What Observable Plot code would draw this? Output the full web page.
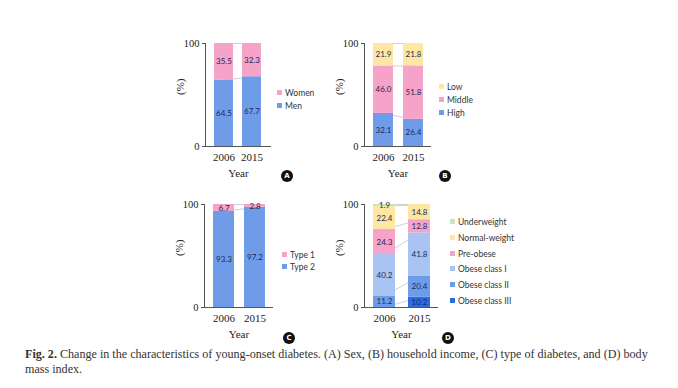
<!DOCTYPE html>
<html>
<head>
<meta charset="utf-8">
<script src="https://cdn.jsdelivr.net/npm/d3@7"></script>
<script src="https://cdn.jsdelivr.net/npm/@observablehq/plot@0.6"></script>
<style>
  html, body { margin: 0; padding: 0; background: #fff; }
  #root { position: relative; width: 678px; height: 388px; overflow: hidden; background: #fff; }
  .panel { position: absolute; }
  .legend { position: absolute; font-family: Lato, "Open Sans", sans-serif; font-size: 8.5px; color: #333; }
  .legend .item { position: absolute; white-space: nowrap; line-height: 10px; transform: translateY(-5px); }
  .legend .sw { display: inline-block; width: 5px; height: 5px; margin-right: 3px; vertical-align: 1px; }
  .badge { position: absolute; width: 12px; height: 12px; border-radius: 50%; background: #111; color: #fff;
           font-family: "DejaVu Sans", sans-serif; font-weight: bold; font-size: 7px; line-height: 12px; text-align: center; }
  .caption { position: absolute; left: 25px; top: 347px; font-family: "Liberation Serif", serif; font-size: 12.1px;
             line-height: 15px; color: #333; white-space: nowrap; }
</style>
</head>
<body>
<div id="root"></div>
<script>
const years = ["2006", "2015"];

// (A) Sex
const sexCats = ["Men", "Women"];
const sexMen = [64.5, 67.7];
const sexWomen = [35.5, 32.3];
const sexColors = ["#6f9ce9", "#f5a3c8"];

// (B) Household income
const incomeCats = ["High", "Middle", "Low"];
const incomeHigh = [32.1, 26.4];
const incomeMiddle = [46.0, 51.8];
const incomeLow = [21.9, 21.8];
const incomeColors = ["#6f9ce9", "#f5a3c8", "#fde7a3"];

// (C) Type of diabetes
const typeCats = ["Type 2", "Type 1"];
const typeTwo = [93.3, 97.2];
const typeOne = [6.7, 2.8];
const typeColors = ["#6f9ce9", "#f5a3c8"];

// (D) Body mass index
const bmiCats = ["Obese class III", "Obese class II", "Obese class I", "Pre-obese", "Normal-weight", "Underweight"];
const bmiObese3 = [0, 10.2];
const bmiObese2 = [11.2, 20.4];
const bmiObese1 = [40.2, 41.8];
const bmiPre = [24.3, 12.8];
const bmiNormal = [22.4, 14.8];
const bmiUnder = [1.9, 0];
const bmiColors = ["#2c6be0", "#6f9ce9", "#a9c3f3", "#f5a3c8", "#fde7a3", "#c8e4c0"];

const root = document.getElementById("root");
const fmt = d3.format(".1f");

function makePanel({left, top, axisX, y100, y0, rangeW, padIn, padOut, cats, series, colors,
                    legendX, legendYs, badge, badgeX, badgeY}) {
  const rows = [];
  cats.forEach((c, i) => years.forEach((y, j) => rows.push({year: y, cat: c, value: series[i][j]})));
  const links = [];
  const cum = [0, 0];
  cats.forEach((c, i) => {
    cum[0] += series[i][0]; cum[1] += series[i][1];
    links.push({from: years[0], to: years[1], a: cum[0], b: cum[1]});
  });
  const marginLeft = axisX - left;
  const W = marginLeft + rangeW + 6;
  const H = 150;
  const marginTop = y100 - top;
  const marginBottom = top + H - y0;
  const chart = Plot.plot({
    width: W, height: H,
    marginLeft, marginRight: 6, marginTop, marginBottom,
    style: {fontFamily: "'Liberation Serif', serif", fontSize: "11px", color: "#222", background: "transparent", overflow: "visible"},
    x: {domain: years, paddingInner: padIn, paddingOuter: padOut, axis: null},
    y: {domain: [0, 100], axis: null},
    color: {domain: cats, range: colors},
    marks: [
      Plot.link(links, {x1: "from", x2: "to", y1: "a", y2: "b", stroke: "#c4c4c4", strokeWidth: 0.8}),
      Plot.barY(rows, Plot.stackY({x: "year", y: "value", fill: "cat", order: cats, inset: 0})),
      Plot.text(rows.filter(d => d.value > 0), Plot.stackY({x: "year", y: "value", z: "cat", order: cats,
        text: d => fmt(d.value), fill: "#1f2755", fontFamily: "Lato, 'Open Sans', sans-serif", fontSize: 8})),
      Plot.frame({anchor: "left", stroke: "#555", strokeWidth: 1}),
      Plot.ruleY([0], {stroke: "#555", strokeWidth: 1.2}),
      Plot.axisY({ticks: [0, 100], tickSize: 3, tickPadding: 3, label: null, fontSize: 10.5, stroke: "#555"}),
      Plot.axisX({tickSize: 0, tickPadding: 7, label: null, fontSize: 11}),
      Plot.text(["Year"], {frameAnchor: "bottom", dy: 30, fontSize: 11}),
      Plot.text(["(%)"], {frameAnchor: "left", dx: -25, rotate: -90, fontSize: 11})
    ]
  });
  const wrap = document.createElement("div");
  wrap.className = "panel";
  wrap.style.left = left + "px";
  wrap.style.top = top + "px";
  wrap.appendChild(chart);
  root.appendChild(wrap);

  const leg = document.createElement("div");
  leg.className = "legend";
  leg.style.left = legendX + "px";
  leg.style.top = "0px";
  const order = cats.slice().reverse();
  const ordColors = colors.slice().reverse();
  order.forEach((c, k) => {
    const it = document.createElement("div");
    it.className = "item";
    it.style.left = "0px";
    it.style.top = legendYs[k] + "px";
    const sw = document.createElement("span");
    sw.className = "sw";
    sw.style.background = ordColors[k];
    it.appendChild(sw);
    it.appendChild(document.createTextNode(c));
    leg.appendChild(it);
  });
  root.appendChild(leg);

  const b = document.createElement("div");
  b.className = "badge";
  b.textContent = badge;
  b.style.left = (badgeX - 6) + "px";
  b.style.top = (badgeY - 6) + "px";
  root.appendChild(b);
}

makePanel({left: 160, top: 30, axisX: 205, y100: 43, y0: 146, rangeW: 66, padIn: 0.32, padOut: 0.3,
  cats: sexCats, series: [sexMen, sexWomen], colors: sexColors,
  legendX: 277, legendYs: [93, 106], badge: "A", badgeX: 287, badgeY: 176});

makePanel({left: 320, top: 30, axisX: 364, y100: 43, y0: 146, rangeW: 67, padIn: 0.35, padOut: 0.26,
  cats: incomeCats, series: [incomeHigh, incomeMiddle, incomeLow], colors: incomeColors,
  legendX: 439, legendYs: [87, 100, 113], badge: "B", badgeX: 445, badgeY: 176});

makePanel({left: 160, top: 191, axisX: 204, y100: 204, y0: 307, rangeW: 69, padIn: 0.33, padOut: 0.25,
  cats: typeCats, series: [typeTwo, typeOne], colors: typeColors,
  legendX: 282, legendYs: [255, 267], badge: "C", badgeX: 289, badgeY: 338});

makePanel({left: 320, top: 191, axisX: 364, y100: 204, y0: 307, rangeW: 74, padIn: 0.375, padOut: 0.22,
  cats: bmiCats, series: [bmiObese3, bmiObese2, bmiObese1, bmiPre, bmiNormal, bmiUnder], colors: bmiColors,
  legendX: 450, legendYs: [222, 238, 254, 269, 285, 301], badge: "D", badgeX: 448, badgeY: 338});

const cap = document.createElement("div");
cap.className = "caption";
cap.innerHTML = "<b>Fig. 2.</b> Change in the characteristics of young-onset diabetes. (A) Sex, (B) household income, (C) type of diabetes, and (D) body<br>mass index.";
root.appendChild(cap);
</script>
</body>
</html>
